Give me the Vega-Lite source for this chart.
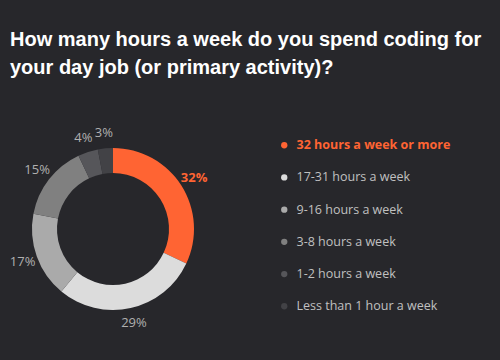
{
  "$schema": "https://vega.github.io/schema/vega-lite/v6.json",
  "width": 226,
  "height": 226,
  "autosize": "none",
  "padding": {"left": 0, "top": 116, "right": 274, "bottom": 18},
  "background": "#27272b",
  "title": {
    "text": ["How many hours a week do you spend coding for", "your day job (or primary activity)?"],
    "anchor": "start",
    "frame": "group",
    "font": "Liberation Sans",
    "fontSize": 20,
    "fontWeight": "bold",
    "color": "#ffffff",
    "lineHeight": 28,
    "dx": 10,
    "offset": 38
  },
  "data": {
    "values": [
      {"category": "32 hours a week or more", "pct": 32, "label": "32%", "idx": 1},
      {"category": "17-31 hours a week", "pct": 29, "label": "29%", "idx": 2},
      {"category": "9-16 hours a week", "pct": 17, "label": "17%", "idx": 3},
      {"category": "3-8 hours a week", "pct": 15, "label": "15%", "idx": 4},
      {"category": "1-2 hours a week", "pct": 4, "label": "4%", "idx": 5},
      {"category": "Less than 1 hour a week", "pct": 3, "label": "3%", "idx": 6}
    ]
  },
  "encoding": {
    "theta": {"field": "pct", "type": "quantitative", "stack": true},
    "order": {"field": "idx", "type": "quantitative", "sort": "ascending"}
  },
  "layer": [
    {
      "mark": {"type": "arc", "outerRadius": 81, "innerRadius": 56},
      "encoding": {
        "color": {
          "field": "category",
          "type": "nominal",
          "scale": {
            "domain": ["32 hours a week or more", "17-31 hours a week", "9-16 hours a week", "3-8 hours a week", "1-2 hours a week", "Less than 1 hour a week"],
            "range": ["#ff6433", "#dcdcdc", "#aaaaaa", "#808080", "#56565a", "#424246"]
          },
          "legend": {
            "title": null,
            "orient": "none",
            "legendX": 278,
            "legendY": 23,
            "symbolType": "circle",
            "symbolSize": 40,
            "symbolStrokeWidth": 0,
            "labelFont": "Open Sans",
            "labelFontSize": 12.5,
            "labelColor": "#c0c0c0",
            "labelOffset": 6,
            "rowPadding": 19.2,
            "labelLimit": 250,
            "encode": {
              "labels": {
                "update": {
                  "fill": {"signal": "datum.value === '32 hours a week or more' ? '#ff6433' : '#c0c0c0'"},
                  "fontWeight": {"signal": "datum.value === '32 hours a week or more' ? 'bold' : 'normal'"}
                }
              }
            }
          }
        }
      }
    },
    {
      "mark": {"type": "text", "radius": 96, "font": "Open Sans", "fontSize": 13, "color": "#b0b0b0"},
      "encoding": {
        "text": {"field": "label", "type": "nominal"},
        "opacity": {
          "condition": {"test": "datum.idx === 1", "value": 0},
          "value": 1
        }
      }
    },
    {
      "mark": {"type": "text", "radius": 96, "font": "Open Sans", "fontSize": 13, "fontWeight": "bold", "color": "#ff6433"},
      "encoding": {
        "text": {"field": "label", "type": "nominal"},
        "opacity": {
          "condition": {"test": "datum.idx === 1", "value": 1},
          "value": 0
        }
      }
    }
  ]
}
